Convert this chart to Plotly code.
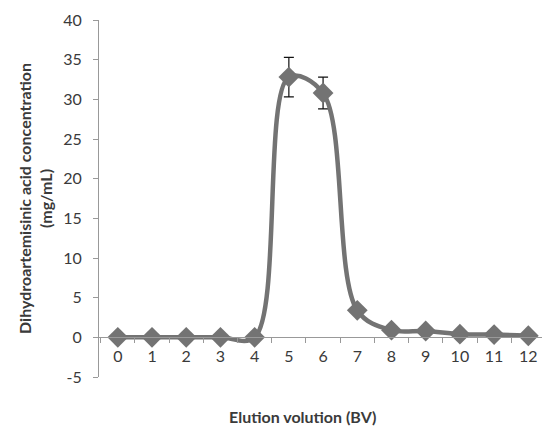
import plotly.graph_objects as go

bv = [0, 1, 2, 3, 4, 5, 6, 7, 8, 9, 10, 11, 12]
conc = [0, 0, 0, 0, 0, 32.8, 30.8, 3.4, 0.9, 0.8, 0.4, 0.35, 0.2]
err = [0, 0, 0, 0, 0, 2.5, 2.0, 0, 0, 0, 0, 0, 0]
y_ticks = [-5, 0, 5, 10, 15, 20, 25, 30, 35, 40]
y_labels = ["-5", "0", "5", "10", "15", "20", "25", "30", "35", "40"]

FONT = "Lato"
gray = "#737373"
txt = "#3a3a3a"

fig = go.Figure()
fig.add_trace(go.Scatter(
    x=bv, y=conc, mode="lines+markers",
    line=dict(color=gray, width=4.5, shape="spline", smoothing=1),
    marker=dict(symbol="diamond", size=16, color=gray),
    error_y=dict(type="data", array=err, visible=True, color="#111111", thickness=1.2, width=5),
    showlegend=False,
))

fig.update_layout(
    width=542, height=430,
    margin=dict(l=99, r=0, t=20, b=53),
    plot_bgcolor="white", paper_bgcolor="white",
    font=dict(family=FONT, size=16, color=txt),
    xaxis=dict(
        range=[-0.55, 12.4], tickvals=bv, ticktext=[str(v) for v in bv],
        anchor="free", position=5 / 45,
        showline=True, linecolor="#999999", linewidth=1,
        ticks="", showgrid=False, zeroline=False, ticklabelstandoff=4,
        tickfont=dict(family=FONT, size=16, color=txt),
        minor=dict(tick0=0.5, dtick=1, ticks="outside", ticklen=5, tickcolor="#999999"),
    ),
    yaxis=dict(
        range=[-5, 40], tickvals=y_ticks, ticktext=y_labels,
        showline=True, linecolor="#999999", linewidth=1,
        ticks="outside", ticklen=5, tickcolor="#999999",
        showgrid=False, zeroline=False, ticklabelstandoff=8,
        tickfont=dict(family=FONT, size=16, color=txt),
        title=dict(text="<b>Dihydroartemisinic acid concentration<br>(mg/mL)</b>",
                   font=dict(family=FONT, size=16, color=txt), standoff=6),
    ),
)

fig.add_annotation(
    text="<b>Elution volution (BV)</b>", xref="paper", yref="paper",
    x=0.46, y=-0.112, xanchor="center", yanchor="middle", showarrow=False,
    font=dict(family=FONT, size=16, color=txt),
)

fig.write_html("out.html")
